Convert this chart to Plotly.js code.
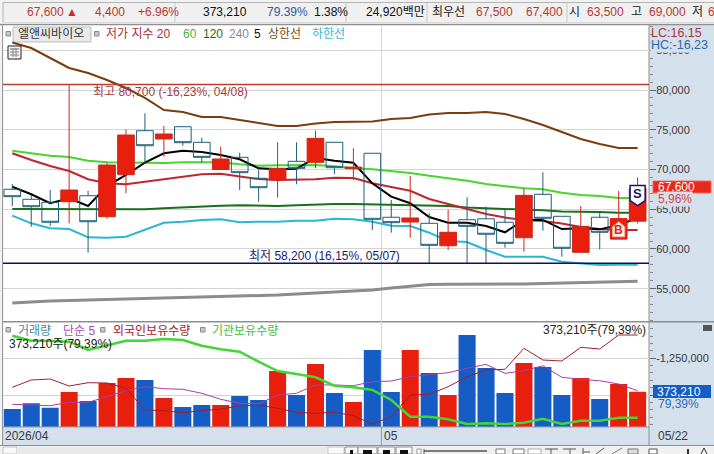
<!DOCTYPE html>
<html>
<head>
<meta charset="utf-8">
<script src="https://cdn.plot.ly/plotly-3.0.1.min.js"></script>
<style>html,body{margin:0;padding:0;background:#fff;overflow:hidden}#c{width:714px;height:454px}</style>
</head>
<body>
<div id="c"></div>
<script>
const opens  = [67510,66250,65870,65950,66700,64060,69345,74880,73840,75380,73420,70000,71530,68890,68680,71030,70900,73420,70100,72040,63990,63390,63230,60410,63680,63800,63360,61420,66880,64110,59580,63990,61250,63500];
const highs  = [68175,66790,67420,80700,67330,70850,75050,77070,75470,75380,74000,72870,72110,69940,73420,73420,74880,73420,72670,72040,66160,69180,64500,64900,66500,65320,64990,67630,69650,64110,65410,64570,67290,69000];
const lows   = [65407,62800,62890,63230,59530,63810,67000,70780,71610,72990,70900,69970,67420,65950,66450,68140,70150,69430,68680,62390,62050,61420,58200,59870,58200,58200,60160,59660,62300,59030,59580,59960,61250,63200];
const closes = [66577,65320,63360,67420,63430,70560,74340,72990,74465,73370,71530,71320,69600,67710,70150,70150,73920,70225,70300,63730,63310,63900,60460,62100,62850,61850,60710,66750,63860,60090,62850,62100,63800,67600];
const ma5    = [67835,66880,65750,66380,65410,67920,69310,70850,72040,72360,72200,71820,71280,70150,70020,70100,71450,71100,70850,68260,66580,65750,64020,63300,63300,62890,62100,63650,63650,62510,62600,62470,63020,63900];
const ma20   = [72040,71190,70440,69810,68770,68260,68140,68460,68770,69090,69400,69470,69180,68800,68680,68680,68770,68970,68930,68260,67760,67330,66290,65660,65030,64400,63960,63650,63520,63200,62770,62510,62390,62390];
const ma60   = [72360,72040,71730,71570,71100,70900,70850,70850,70820,70900,70940,70900,70650,70480,70530,70530,70570,70400,70150,70020,69770,69560,69200,68890,68590,68170,67890,67630,67510,67080,66790,66660,66410,66410];
const ma120  = [65030,65030,65030,65030,65030,65000,64950,64990,65120,65250,65410,65450,65500,65410,65410,65500,65620,65660,65660,65620,65620,65580,65510,65410,65210,65130,65030,64990,64860,64730,64730,64650,64560,64560];
const ma240  = [53205,53370,53460,53520,53580,53620,53640,53710,53770,53830,53900,53960,54020,54090,54210,54340,54470,54590,54720,54840,55090,55340,55530,55560,55560,55560,55560,55590,55660,55720,55780,55780,55910,55930];
const upper  = [85975,85280,84025,82770,82140,81260,80250,79000,77480,77230,76600,76600,76230,75850,75470,75470,75790,75975,76010,76040,76350,76480,76920,77100,77100,77230,76980,76350,75600,74720,73840,73210,72700,72700];
const lower  = [64190,63230,62600,62510,61470,61420,61550,62390,63300,63430,63650,63730,63360,63430,63430,63560,63560,63810,63730,63430,62930,62890,62050,61000,60880,59870,59030,59030,59030,58400,58150,57985,58020,58020];
const volume = [189000,250000,203000,370000,274000,466000,519000,498000,306000,210000,231000,231000,327000,285000,594000,338000,669000,359000,263000,818000,370000,818000,573000,338000,978000,626000,359000,679000,637000,338000,519000,295000,455000,373210];
const volMa5 = [239000,231000,224000,260000,260000,320000,384000,427000,405000,399000,356000,292000,250000,242000,338000,356000,445000,445000,437000,480000,487000,533000,551000,576000,623000,665000,569000,597000,650000,527000,505000,490000,455000,384000];
const foreignHold = [-1447500,-1397800,-1391000,-1438700,-1416200,-1418300,-1454400,-1602200,-1607000,-1620600,-1607000,-1595400,-1574900,-1568100,-1590600,-1617800,-1624700,-1617800,-1641000,-1697500,-1647800,-1500000,-1495200,-1443500,-1375300,-1329700,-1324900,-1181900,-1261600,-1268400,-1175100,-1186600,-1091300,-1091300];
const instHold = [91000,86000,86000,85000,76700,81700,86000,86000,87700,86700,81000,77400,75000,65000,55700,52700,49400,41000,39400,36700,26700,10000,10000,7400,2700,3400,2700,4000,8000,2700,6000,6000,9000,9000];
const highPrice = 80700, lowPrice = 58200;
const priceTicks = [55000,60000,65000,70000,75000,80000,85000];
const priceTickText = ["55,000","60,000","65,000","70,000","75,000","80,000","85,000"];
const days = opens.map((_, i) => i);

const W = 714, H = 454;
const FONT = '"Liberation Sans","Noto Sans CJK KR",sans-serif';
const px = x => x / W, py = y => 1 - y / H;
const RED = '#e81f0c', BLUE = '#155cc4', BAND = '#d4e0ec';
const xRange = [-0.49, 33.6];

function rect(x0, y0, x1, y1, fill, line, layer) {
  return {type:'rect', xref:'paper', yref:'paper', x0:px(x0), x1:px(x1), y0:py(y0), y1:py(y1),
    fillcolor:fill || 'rgba(0,0,0,0)', line:{color:line || 'rgba(0,0,0,0)', width:line ? 1 : 0}, layer:layer || 'below'};
}
function seg(x0, y0, x1, y1, color, w, layer) {
  return {type:'line', xref:'paper', yref:'paper', x0:px(x0), x1:px(x1), y0:py(y0), y1:py(y1), line:{color:color, width:w || 1}, layer:layer || 'below'};
}
function text(t, x, y, color, size, anchor, bg) {
  const a = {text:t, xref:'paper', yref:'paper', x:px(x), y:py(y), xanchor:anchor || 'left', yanchor:'middle',
    showarrow:false, borderpad:0, font:{family:FONT, size:size || 12, color:color || '#222'}};
  if (bg) a.bgcolor = bg;
  return a;
}
function line(y, color, width, yaxis) {
  return {type:'scatter', mode:'lines', x:days, y:y, yaxis:yaxis, xaxis: (yaxis === 'y') ? 'x' : 'x2',
    line:{color:color, width:width}, hoverinfo:'skip'};
}

const traces = [
  line(ma240, '#8c8c8c', 3, 'y'),
  line(upper, '#7a3d10', 2, 'y'),
  line(lower, '#2bb6d6', 2, 'y'),
  line(ma120, '#1b6e1b', 2, 'y'),
  line(ma60,  '#46d62e', 2, 'y'),
  line(ma20,  '#c0262e', 2, 'y'),
  line(ma5,   '#000000', 2, 'y'),
  {type:'candlestick', x:days, open:opens, high:highs, low:lows, close:closes, xaxis:'x', yaxis:'y5',
    whiskerwidth:0,
    increasing:{line:{color:'#c92a1c', width:1}, fillcolor:RED},
    decreasing:{line:{color:'#1f5f78', width:1}, fillcolor:'rgba(0,0,0,0)'},
    hoverinfo:'skip'},
  {type:'bar', x:days, y:volume, xaxis:'x2', yaxis:'y2', width:0.9,
    marker:{color:days.map(i => closes[i] >= opens[i] ? RED : BLUE), line:{width:0}}, hoverinfo:'skip'},
  line(volMa5, '#a63fa8', 1, 'y2'),
  line(foreignHold, '#a01f2f', 1, 'y3'),
  line(instHold, '#42d636', 2.5, 'y4')
];

const priceDom = [py(321.7), py(25)];
const volDom = [py(426.7), py(321.7)];
const xDom = [px(3), px(649)];
const priceRange = [50852, 88177];

const layout = {
  width:W, height:H, margin:{l:0,r:0,t:0,b:0,pad:0},
  paper_bgcolor:BAND, plot_bgcolor:'#ffffff', showlegend:false, boxgap:0.12, boxgroupgap:0, boxmode:'overlay', bargap:0.1,
  font:{family:FONT, size:11, color:'#333'},
  xaxis:{domain:xDom, range:xRange, anchor:'y', tickmode:'array', tickvals:[19.5], ticktext:[''], showgrid:true,
    gridcolor:'#d4d4d4', ticks:'', rangeslider:{visible:false}, zeroline:false, showline:false, showticklabels:false},
  xaxis2:{domain:xDom, range:xRange, anchor:'y2', tickmode:'array', tickvals:[19.5], ticktext:[''], showgrid:true,
    gridcolor:'#d4d4d4', ticks:'', zeroline:false, showline:false, showticklabels:false},
  yaxis:{domain:priceDom, range:priceRange, anchor:'x', side:'right', tickmode:'array', tickvals:priceTicks, ticktext:priceTickText,
    gridcolor:'#d4d4d4', zeroline:false, ticks:'outside', ticklen:6, tickcolor:'#666', ticklabelstandoff:-2, tickfont:{family:FONT,size:11,color:'#3a3a3a'},
    minor:{ticks:'outside', ticklen:3, dtick:1000, tickcolor:'#888', showgrid:false}},
  yaxis5:{domain:priceDom, range:priceRange, overlaying:'y', anchor:'x', side:'right', visible:false},
  yaxis2:{domain:volDom, range:[0,1119600], anchor:'x2', visible:false},
  yaxis3:{domain:volDom, range:[-1715900,-1000700], overlaying:'y2', anchor:'x2', side:'right', tickmode:'array',
    tickvals:[-1500000,-1250000], ticktext:['','-1,250,000'], showgrid:true, gridcolor:'#d4d4d4', zeroline:false,
    ticks:'outside', ticklen:6, tickcolor:'#666', ticklabelstandoff:-2, tickfont:{family:FONT,size:11,color:'#3a3a3a'},
    minor:{ticks:'outside', ticklen:3, dtick:50000, tickcolor:'#888', showgrid:false}},
  yaxis4:{domain:volDom, range:[0,105000], overlaying:'y2', anchor:'x2', visible:false},
  shapes:[
    // top info strip
    rect(0,0,714,25,'#f2f2f2'),
    rect(3,2.5,716,22.5,'#f0f0f0','#b4b4b4'),
    rect(0,22.5,714,25,'#ffffff'),
    seg(175,3,175,22,'#c8c8c8'), seg(346,3,346,22,'#c8c8c8'), seg(427,3,427,22,'#c8c8c8'), seg(567,3,567,22,'#c8c8c8'),
    // frame
    rect(0,25,3,446,'#f2f2f2'),
    seg(0,24.6,714,24.6,'#8f8f8f',1.5),
    seg(2.6,25,2.6,446,'#8f8f8f'),
    seg(649,25,649,446,'#8f8f8f'),
    seg(3,321.7,714,321.7,'#8f8f8f',1.5),
    seg(3,426.9,649,426.9,'#8f8f8f'),
    seg(381.4,427,381.4,446,'#9a9a9a'),
    // bottom strip
    rect(0,445.5,714,454,'#f0f0f0'),
    seg(0,445.5,714,445.5,'#8f8f8f'),
    rect(3,447,17,454,'#f8f8f8','#c4c4c4'),
    rect(17,447,328,454,'#e9e9e9'),
    rect(328,447,344,454,'#fafafa','#c8c8c8'),
    rect(345,447,358,454,'#fafafa','#8f8f8f'), rect(350,450,353,454,'#111'),
    rect(358,447,377,454,'#fafafa','#8f8f8f'), rect(363,450,372,454,'#111'),
    rect(378,447,395,454,'#fafafa','#8f8f8f'), rect(383,450,390,454,'#111'),
    rect(396,447,412,454,'#fafafa','#8f8f8f'), rect(400,450,408,454,'#111'),
    rect(417,449,421,454,'#ffffff','#999'), seg(424,451,487,451,'#555',1.5), seg(424,449,424,454,'#555'),
    rect(496,449,505,454,'#fff','#777'), rect(513,449,524,454,'#fff','#777'),
    rect(528,449,541,454,'#fff','#aaa'), seg(545,449,558,449,'#555'), seg(551,449,551,454,'#555'),
    seg(563,449,576,449,'#555'), seg(570,449,570,454,'#555'),
    seg(583,448,583,454,'#555'), seg(583,452,590,452,'#555'),
    seg(596,454,604,448,'#555'), seg(612,454,622,448,'#777'), rect(628,449,638,454,'#ddd','#777'),
    rect(649,449,657,454,'#fff','#555'), rect(687,449,689,454,'#333'), seg(701,454,704,448,'#333'), seg(704,448,707,454,'#333'),
    // legend squares, symbol button
    rect(13,27,91,42,'#e9e9e9','#bdbdbd'),
    rect(6,31.5,10.5,36,'#c8c8c8','#8a8a8a'),
    rect(94.5,31.5,99,36,'#c8c8c8','#8a8a8a'),
    rect(8,46,21,59,'#f4f4f4','#222','above'),
    seg(10,49,19,49,'#666',1,'above'), seg(10,52,19,52,'#888',1,'above'), seg(10,55,19,55,'#888',1,'above'),
    seg(13,48,13,57,'#888',1,'above'), seg(16,48,16,57,'#888',1,'above'),
    rect(6,327.5,10.5,332,'#c8c8c8','#8a8a8a'),
    rect(100.5,327.5,105,332,'#c8c8c8','#8a8a8a'),
    rect(200.5,327.5,205,332,'#c8c8c8','#8a8a8a'),
    // high / low lines
    {type:'line', xref:'x', yref:'y', x0:xRange[0], x1:xRange[1], y0:highPrice, y1:highPrice, line:{color:'#c23a35', width:1.4}},
    {type:'line', xref:'x', yref:'y', x0:xRange[0], x1:xRange[1], y0:lowPrice, y1:lowPrice, line:{color:'#10105e', width:1.4}},
    // right axis value tags
    rect(653,181,711,193,'#e8281a','#f06a5e','above'),
    rect(653,385,711,398,BLUE,null,'above'),
    rect(703,325,712,331,'#555',null,'above'),
    // B / S signals, anchored on their candles
    {type:'path', xref:'x', yref:'y', xsizemode:'pixel', ysizemode:'pixel', xanchor:32, yanchor:closes[32],
      path:'M-8,0 L8,0 L8,-20 L-8,-20 Z', fillcolor:RED, line:{color:RED,width:1}},
    {type:'path', xref:'x', yref:'y', xsizemode:'pixel', ysizemode:'pixel', xanchor:32, yanchor:closes[32],
      path:'M-6,-8 L0,-3 L6,-8 L6,-18 L-6,-18 Z', fillcolor:'#fff4f2', line:{color:'#f4b4ac',width:1}},
    {type:'path', xref:'x', yref:'y', xsizemode:'pixel', ysizemode:'pixel', xanchor:33, yanchor:closes[33],
      path:'M-7.5,3 L7.5,3 L7.5,-12 L0,-17 L-7.5,-12 Z', fillcolor:'#ffffff', line:{color:'#14146e',width:1.5}}
  ],
  annotations:[
    text('67,600',26,12,'#b8382e'), text('▲',65,12,'#d8281c',12),
    text('4,400',94,12,'#b8382e'), text('+6.96%',137,12,'#b8382e'),
    text('373,210',202,12,'#111'), text('79.39%',266,12,'#2c5a9a'), text('1.38%',313,12,'#111'),
    text('24,920백만',365,12,'#111'), text('최우선',431,12,'#222'),
    text('67,500',475,12,'#b8382e'), text('67,400',525,12,'#b8382e'),
    text('시',568,12,'#222'), text('63,500',586,12,'#b8382e'),
    text('고',630,12,'#222'), text('69,000',648,12,'#b8382e'),
    text('저',691,12,'#222'), text('6',707,12,'#b8382e'),
    text('엘앤씨바이오',17,34.5,'#333'),
    text('저가 지수 20',105,34.5,'#a83038'), text('60',182,34.5,'#3fb83a'), text('120',202,34.5,'#1b6e1b'),
    text('240',228,34.5,'#8a8a8a'), text('5',253,34.5,'#111'), text('상한선',267,34.5,'#7a4a10'), text('하한선',311,34.5,'#35b4d0'),
    text('최고 80,700 (-16,23%, 04/08)',92,91.5,'#a8383a'),
    text('최저 58,200 (16,15%, 05/07)',248,255.5,'#1a1a70'),
    text('LC:16,15',649.5,33,'#a8383a',12.5), text('HC:-16,23',649.5,44.5,'#2a6aaa',12.5,'left',BAND),
    text('67,600',657,187,'#ffffff',12), text('5,96%',657,199.5,'#d0484a',12,'left',BAND),
    text('373,210',656,391.5,'#ffffff',12), text('79,39%',657,403.5,'#2a6ac0',12),
    text('거래량',17,330.5,'#3f8a98'), text('단순 5',62,330.5,'#b04ab0'),
    text('외국인보유수량',112,330.5,'#a82030'), text('기관보유수량',211,330.5,'#3fc03a'),
    text('373,210주(79,39%)',8,343.5,'#222'), text('373,210주(79,39%)',647,329.5,'#222',12,'right'),
    text('2026/04',4,435.5,'#3a3a3a'), text('05',383,435.5,'#3a3a3a'), text('05/22',657,435.5,'#3a3a3a'),
    {text:'<b>S</b>', xref:'x', yref:'y', x:33, y:closes[33], yshift:-5, showarrow:false, font:{family:FONT,size:13,color:'#14146e'}},
    {text:'<b>B</b>', xref:'x', yref:'y', x:32, y:closes[32], yshift:-11, showarrow:false, font:{family:FONT,size:12,color:'#d8281c'}}
  ]
};
Plotly.newPlot('c', traces, layout, {staticPlot:true, displayModeBar:false});
</script>
</body>
</html>
